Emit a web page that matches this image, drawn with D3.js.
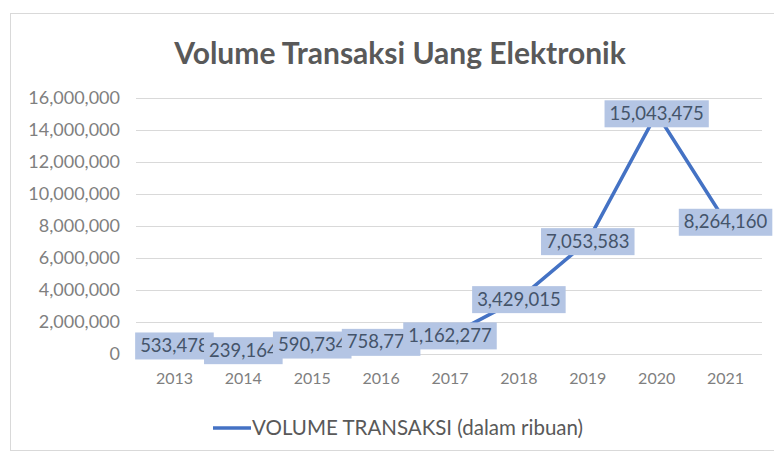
<!DOCTYPE html>
<html>
<head>
<meta charset="utf-8">
<script src="https://cdn.jsdelivr.net/npm/d3@7"></script>
<style>
  body { margin: 0; background: #fff; }
  svg text { font-family: Lato, "Open Sans", sans-serif; }
</style>
</head>
<body>
<svg id="chart"></svg>
<script>
const years = ['2013', '2014', '2015', '2016', '2017', '2018', '2019', '2020', '2021'];
const volume = [533478, 239164, 590734, 758772, 1162277, 3429015, 7053583, 15043475, 8264160];
const yTicks = [0, 2000000, 4000000, 6000000, 8000000, 10000000, 12000000, 14000000, 16000000];
const seriesName = 'VOLUME TRANSAKSI (dalam ribuan)';
const chartTitle = 'Volume Transaksi Uang Elektronik';

const width = 774;
const height = 452;
const plot = { left: 140, right: 760, top: 98, bottom: 354 };

const svg = d3.select('#chart')
  .attr('width', width)
  .attr('height', height);

// chart area frame
svg.append('rect')
  .attr('x', 10.5)
  .attr('y', 13.5)
  .attr('width', 800)
  .attr('height', 437)
  .attr('fill', '#fff')
  .attr('stroke', '#d9d9d9');

svg.append('text')
  .attr('x', 400)
  .attr('y', 64)
  .attr('text-anchor', 'middle')
  .attr('font-size', '30px')
  .attr('font-weight', 'bold')
  .attr('fill', '#595959')
  .text(chartTitle);

const x = d3.scaleBand()
  .domain(years)
  .range([plot.left, plot.right]);

const y = d3.scaleLinear()
  .domain([0, 16000000])
  .range([plot.bottom, plot.top]);

// gridlines
svg.append('g')
  .selectAll('line')
  .data(yTicks)
  .enter()
  .append('line')
  .attr('x1', plot.left - 4)
  .attr('x2', plot.right + 2)
  .attr('y1', d => Math.round(y(d)) + 0.5)
  .attr('y2', d => Math.round(y(d)) + 0.5)
  .attr('stroke', '#d9d9d9')
  .attr('stroke-width', 1);

// y axis labels
const yAxis = d3.axisLeft(y)
  .tickValues(yTicks)
  .tickFormat(d3.format(','))
  .tickSize(0)
  .tickPadding(20);

svg.append('g')
  .attr('transform', `translate(${plot.left},0)`)
  .call(yAxis)
  .call(g => g.select('.domain').remove())
  .selectAll('text')
  .attr('font-size', '18px')
  .attr('fill', '#7f7f7f')
  .attr('font-family', 'Lato, sans-serif');

// x axis labels
const xAxis = d3.axisBottom(x).tickSize(0).tickPadding(19);
svg.append('g')
  .attr('transform', `translate(0,${plot.bottom})`)
  .call(xAxis)
  .call(g => g.select('.domain').remove())
  .selectAll('text')
  .attr('font-size', '16px')
  .attr('fill', '#7f7f7f')
  .attr('font-family', 'Lato, sans-serif');

// line
const line = d3.line()
  .x((d, i) => x(years[i]) + x.bandwidth() / 2)
  .y(d => y(d));

svg.append('path')
  .datum(volume)
  .attr('d', line)
  .attr('fill', 'none')
  .attr('stroke', '#4472c4')
  .attr('stroke-width', 3.5)
  .attr('stroke-linejoin', 'round');

// data labels, drawn in order so later boxes cover earlier ones
const fmt = d3.format(',');
const labels = svg.append('g');
volume.forEach((v, i) => {
  const cx = x(years[i]) + x.bandwidth() / 2;
  const cy = y(v);
  const g = labels.append('g');
  const rect = g.append('rect').attr('fill', '#b4c5e4');
  const t = g.append('text')
    .attr('x', cx)
    .attr('y', cy + 6.5)
    .attr('text-anchor', 'middle')
    .attr('font-size', '18.5px')
    .attr('fill', '#44546a')
    .text(fmt(v));
  const w = t.node().getComputedTextLength() + 10;
  rect.attr('x', cx - w / 2)
    .attr('y', cy - 13)
    .attr('width', w)
    .attr('height', 27);
});

// legend
const legend = svg.append('g').attr('transform', 'translate(213,428)');
legend.append('line')
  .attr('x1', 0)
  .attr('x2', 38)
  .attr('stroke', '#4472c4')
  .attr('stroke-width', 3.5);
legend.append('text')
  .attr('x', 39)
  .attr('y', 6.5)
  .attr('font-size', '20.5px')
  .attr('fill', '#595959')
  .text(seriesName);
</script>
</body>
</html>
